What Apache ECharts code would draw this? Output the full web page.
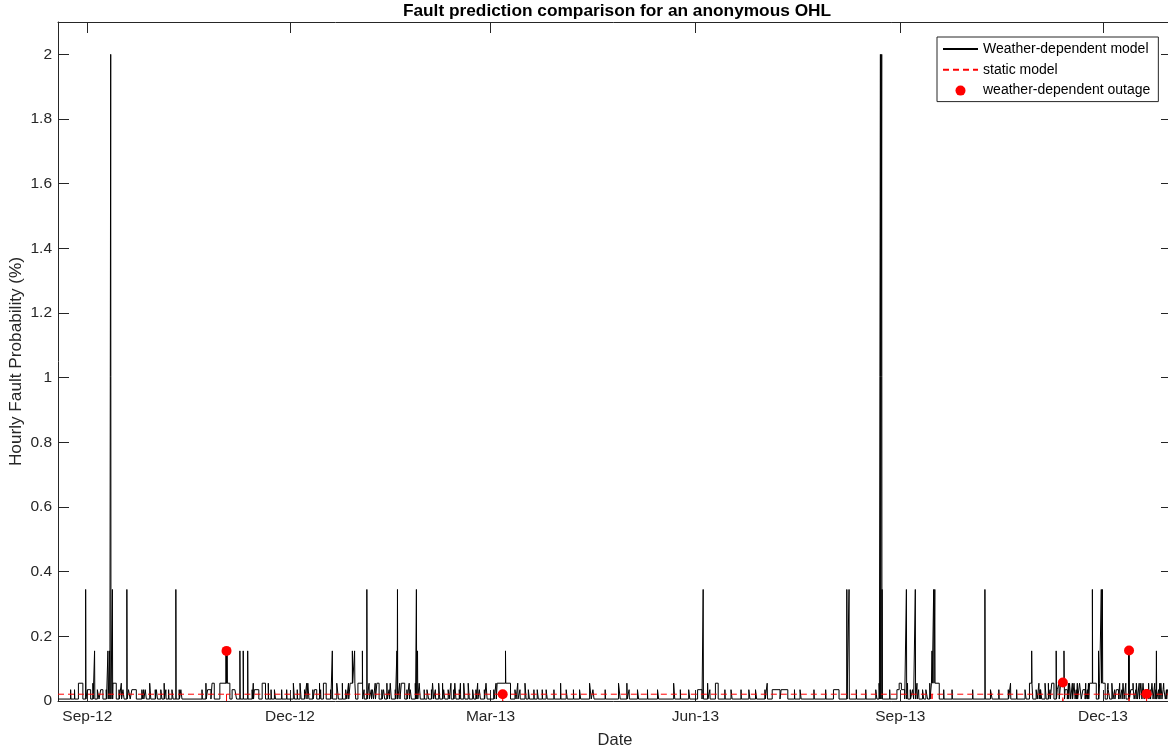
<!DOCTYPE html>
<html><head><meta charset="utf-8">
<script src="https://cdn.jsdelivr.net/npm/echarts@6/dist/echarts.min.js"></script>
<style>html,body{margin:0;padding:0;background:#fff}#c{width:1168px;height:751px}</style>
</head><body><div id="c"></div>
<script>
// ---------- DATA ----------
const xStart = '2012-08-18 20:00';
const xEnd = '2014-01-01 00:00';
const tickDates = ['2012-09-01', '2012-12-01', '2013-03-01', '2013-06-01', '2013-09-01', '2013-12-01'];
const tickLabels = ['Sep-12', 'Dec-12', 'Mar-13', 'Jun-13', 'Sep-13', 'Dec-13'];

const baseValue = 0.006;       // typical hourly probability (%) between events
const staticLevel = 0.021;     // static model (%)
const spikeHours = 3;          // duration of a short spike

const levelPeak = 2.0, levelTall = 0.345, levelMid = 0.155, levelHigh = 0.055, levelLow = 0.035;

const peakDates = ['2012-09-11 12:00', '2013-08-23 02:00', '2013-08-23 16:00'];
const tallDates = ['2012-08-31 06:00', '2012-09-12 06:00', '2012-09-18 18:00', '2012-10-10 18:00',
  '2013-01-04 12:00', '2013-01-18 06:00', '2013-01-26 18:00', '2013-06-04 12:00',
  '2013-08-08 00:00', '2013-08-09 00:00', '2013-08-23 20:00', '2013-09-03 18:00', '2013-09-07 18:00',
  '2013-09-16 00:00', '2013-09-16 12:00', '2013-10-09 00:00', '2013-11-26 06:00',
  '2013-11-30 06:00', '2013-11-30 18:00'];
const midDates = ['2012-09-04 06:00', '2012-09-10 06:00', '2012-09-11 00:00', '2012-11-02 06:00',
  '2012-11-02 12:00', '2012-11-02 18:00', '2012-11-08 12:00', '2012-11-10 00:00', '2012-11-12 00:00',
  '2012-12-20 00:00', '2012-12-29 00:00', '2012-12-30 00:00', '2013-01-02 12:00', '2013-01-18 00:00',
  '2013-01-27 06:00', '2013-03-07 18:00', '2013-09-15 06:00', '2013-10-30 00:00', '2013-11-10 00:00',
  '2013-11-13 12:00', '2013-11-29 00:00', '2013-12-12 12:00', '2013-12-12 18:00', '2013-12-25 00:00'];
const highSpikeDates = ['2012-09-03 12:00', '2012-09-16 06:00', '2012-10-05 12:00', '2012-10-24 06:00',
  '2012-11-14 12:00', '2012-11-21 06:00', '2012-12-08 12:00', '2012-12-14 06:00', '2012-12-24 12:00',
  '2012-12-27 06:00', '2013-01-05 12:00', '2013-01-08 06:00', '2013-01-13 12:00', '2013-01-19 06:00',
  '2013-01-23 12:00', '2013-01-26 06:00', '2013-02-07 12:00', '2013-02-11 06:00', '2013-02-15 12:00',
  '2013-02-23 06:00', '2013-03-03 12:00', '2013-03-13 06:00', '2013-04-01 12:00', '2013-05-01 06:00',
  '2013-06-06 12:00', '2013-07-03 06:00', '2013-08-22 12:00', '2013-09-04 06:00', '2013-09-08 12:00',
  '2013-09-14 06:00', '2013-10-20 12:00', '2013-11-02 06:00', '2013-11-06 12:00', '2013-11-11 06:00',
  '2013-11-15 12:00', '2013-11-17 06:00', '2013-11-19 12:00', '2013-11-23 06:00', '2013-11-24 12:00',
  '2013-12-03 06:00', '2013-12-08 12:00', '2013-12-11 06:00', '2013-12-14 12:00', '2013-12-17 06:00',
  '2013-12-21 12:00', '2013-12-24 06:00', '2013-12-26 12:00', '2013-12-28 06:00'];
const lowSpikeDates = ['2012-08-24 12:00', '2012-08-26 06:00', '2012-09-09 12:00', '2012-09-15 06:00',
  '2012-09-25 12:00', '2012-09-26 06:00', '2012-10-01 12:00', '2012-10-06 06:00', '2012-10-07 12:00',
  '2012-10-12 06:00', '2012-10-22 12:00', '2012-11-06 06:00', '2012-11-14 00:00', '2012-11-22 12:00',
  '2012-11-27 06:00', '2012-11-29 12:00', '2012-12-04 06:00', '2012-12-07 12:00', '2012-12-11 06:00',
  '2012-12-14 18:00', '2012-12-19 06:00', '2013-01-03 06:00', '2013-01-06 12:00', '2013-01-11 06:00',
  '2013-01-14 12:00', '2013-01-17 06:00', '2013-01-22 12:00', '2013-01-30 06:00', '2013-02-02 12:00',
  '2013-02-04 06:00', '2013-02-12 12:00', '2013-02-15 00:00', '2013-02-22 12:00', '2013-02-26 06:00',
  '2013-03-02 12:00', '2013-03-14 06:00', '2013-03-20 12:00', '2013-03-24 06:00', '2013-03-29 12:00',
  '2013-04-07 06:00', '2013-04-21 12:00', '2013-05-02 06:00', '2013-05-10 12:00', '2013-05-25 06:00',
  '2013-06-07 12:00', '2013-06-14 06:00', '2013-06-21 12:00', '2013-07-02 06:00', '2013-07-15 12:00',
  '2013-07-24 06:00', '2013-07-29 12:00', '2013-08-12 06:00', '2013-08-16 12:00', '2013-08-27 06:00',
  '2013-09-05 12:00', '2013-09-09 06:00', '2013-09-20 12:00', '2013-09-24 06:00', '2013-10-03 12:00',
  '2013-10-15 06:00', '2013-10-19 12:00', '2013-10-23 06:00', '2013-11-02 18:00', '2013-11-07 06:00',
  '2013-11-19 00:00', '2013-11-24 00:00', '2013-12-01 12:00', '2013-12-06 06:00', '2013-12-09 12:00',
  '2013-12-15 18:00', '2013-12-22 06:00', '2013-12-24 18:00', '2013-12-26 00:00', '2013-12-29 12:00'];
const highRanges = [
  ['2012-08-28 00:00', '2012-08-30 00:00'], ['2012-09-12 12:00', '2012-09-14 00:00'],
  ['2012-09-29 00:00', '2012-09-29 12:00'], ['2012-10-27 00:00', '2012-10-28 00:00'],
  ['2012-10-30 12:00', '2012-11-04 00:00'], ['2012-11-18 12:00', '2012-11-20 00:00'],
  ['2012-12-02 12:00', '2012-12-03 00:00'], ['2012-12-05 12:00', '2012-12-06 00:00'],
  ['2012-12-09 00:00', '2012-12-09 12:00'], ['2012-12-16 00:00', '2012-12-17 06:00'],
  ['2012-12-22 00:00', '2012-12-22 18:00'], ['2012-12-28 00:00', '2012-12-30 12:00'],
  ['2012-12-31 12:00', '2013-01-02 12:00'], ['2013-01-09 00:00', '2013-01-10 00:00'],
  ['2013-01-15 00:00', '2013-01-15 12:00'], ['2013-01-20 00:00', '2013-01-21 12:00'],
  ['2013-01-28 00:00', '2013-01-28 12:00'], ['2013-02-03 00:00', '2013-02-03 12:00'],
  ['2013-02-05 18:00', '2013-02-06 06:00'], ['2013-02-13 00:00', '2013-02-13 12:00'],
  ['2013-02-17 00:00', '2013-02-17 12:00'], ['2013-02-19 00:00', '2013-02-19 12:00'],
  ['2013-02-27 00:00', '2013-02-27 12:00'], ['2013-03-04 00:00', '2013-03-10 00:00'],
  ['2013-03-16 12:00', '2013-03-17 00:00'], ['2013-04-14 12:00', '2013-04-15 06:00'],
  ['2013-04-27 12:00', '2013-04-28 06:00'], ['2013-05-22 06:00', '2013-05-22 18:00'],
  ['2013-06-10 00:00', '2013-06-11 06:00'], ['2013-08-31 12:00', '2013-09-01 12:00'],
  ['2013-09-15 00:00', '2013-09-18 12:00'], ['2013-10-29 00:00', '2013-10-30 12:00'],
  ['2013-11-05 00:00', '2013-11-05 12:00'], ['2013-11-08 00:00', '2013-11-09 00:00'],
  ['2013-11-12 00:00', '2013-11-13 18:00'], ['2013-11-16 00:00', '2013-11-16 12:00'],
  ['2013-11-18 00:00', '2013-11-18 12:00'], ['2013-11-20 12:00', '2013-11-21 06:00'],
  ['2013-11-25 00:00', '2013-11-28 00:00'], ['2013-11-29 12:00', '2013-12-02 00:00'],
  ['2013-12-05 00:00', '2013-12-05 12:00'], ['2013-12-10 00:00', '2013-12-10 12:00'],
  ['2013-12-16 00:00', '2013-12-16 12:00'], ['2013-12-18 00:00', '2013-12-18 12:00'],
  ['2013-12-19 00:00', '2013-12-19 12:00'], ['2013-12-23 00:00', '2013-12-23 12:00'],
  ['2013-12-27 00:00', '2013-12-27 12:00']];
const lowRanges = [
  ['2012-09-01 00:00', '2012-09-02 12:00'], ['2012-09-05 12:00', '2012-09-06 06:00'],
  ['2012-09-07 00:00', '2012-09-08 00:00'], ['2012-09-17 00:00', '2012-09-17 12:00'],
  ['2012-09-19 12:00', '2012-09-20 06:00'], ['2012-09-21 00:00', '2012-09-23 00:00'],
  ['2012-09-27 00:00', '2012-09-27 12:00'], ['2012-10-02 00:00', '2012-10-02 12:00'],
  ['2012-10-04 00:00', '2012-10-04 12:00'], ['2012-10-09 00:00', '2012-10-09 12:00'],
  ['2012-10-13 00:00', '2012-10-13 12:00'], ['2012-10-25 00:00', '2012-10-26 12:00'],
  ['2012-11-05 00:00', '2012-11-07 00:00'], ['2012-11-15 00:00', '2012-11-17 00:00'],
  ['2012-11-24 00:00', '2012-11-24 12:00'], ['2012-12-12 00:00', '2012-12-13 00:00'],
  ['2012-12-26 00:00', '2012-12-26 12:00'], ['2013-01-07 00:00', '2013-01-07 12:00'],
  ['2013-01-12 00:00', '2013-01-12 12:00'], ['2013-01-24 00:00', '2013-01-24 12:00'],
  ['2013-01-31 12:00', '2013-02-01 06:00'], ['2013-02-08 00:00', '2013-02-08 12:00'],
  ['2013-02-10 00:00', '2013-02-10 12:00'], ['2013-02-21 00:00', '2013-02-21 12:00'],
  ['2013-02-24 00:00', '2013-02-24 12:00'], ['2013-03-12 00:00', '2013-03-12 12:00'],
  ['2013-03-18 00:00', '2013-03-18 12:00'], ['2013-03-22 00:00', '2013-03-22 12:00'],
  ['2013-03-26 00:00', '2013-03-26 12:00'], ['2013-04-04 00:00', '2013-04-04 12:00'],
  ['2013-04-10 00:00', '2013-04-10 12:00'], ['2013-04-16 00:00', '2013-04-16 12:00'],
  ['2013-05-06 00:00', '2013-05-06 12:00'], ['2013-05-15 00:00', '2013-05-15 12:00'],
  ['2013-05-29 00:00', '2013-05-29 12:00'], ['2013-06-02 00:00', '2013-06-04 00:00'],
  ['2013-06-17 00:00', '2013-06-17 12:00'], ['2013-06-25 00:00', '2013-06-25 12:00'],
  ['2013-06-28 00:00', '2013-06-28 12:00'], ['2013-07-05 12:00', '2013-07-09 00:00'],
  ['2013-07-09 12:00', '2013-07-12 12:00'], ['2013-07-18 00:00', '2013-07-18 12:00'],
  ['2013-08-02 00:00', '2013-08-04 12:00'], ['2013-08-21 00:00', '2013-08-21 12:00'],
  ['2013-08-30 12:00', '2013-09-03 00:00'], ['2013-09-06 12:00', '2013-09-07 00:00'],
  ['2013-09-11 00:00', '2013-09-11 12:00'], ['2013-09-12 12:00', '2013-09-13 06:00'],
  ['2013-10-11 12:00', '2013-10-12 06:00'], ['2013-10-27 00:00', '2013-10-27 12:00'],
  ['2013-11-01 00:00', '2013-11-01 12:00'], ['2013-11-03 00:00', '2013-11-03 12:00'],
  ['2013-11-10 12:00', '2013-11-11 06:00'], ['2013-11-14 00:00', '2013-11-15 00:00'],
  ['2013-11-22 00:00', '2013-11-23 00:00'], ['2013-12-03 00:00', '2013-12-04 00:00'],
  ['2013-12-07 00:00', '2013-12-08 00:00'], ['2013-12-13 12:00', '2013-12-15 00:00'],
  ['2013-12-20 00:00', '2013-12-21 12:00'], ['2013-12-28 00:00', '2013-12-29 00:00'],
  ['2013-12-30 00:00', '2013-12-31 12:00']];

const outageDates = ['2012-11-02 12:00', '2013-03-06 12:00', '2013-11-13 00:00', '2013-12-12 17:00', '2013-12-20 14:00'];
const outageValues = [0.155, 0.021, 0.057, 0.156, 0.022];
const staticDipDates = ['2012-11-02 12:00', '2013-03-06 12:00', '2013-09-15 06:00', '2013-11-13 00:00', '2013-12-12 17:00', '2013-12-20 14:00'];

// ---------- BUILD ----------
const H = 3600e3;
function t(s) {
  const [d, h = '00:00'] = s.split(' ');
  const [Y, M, D] = d.split('-').map(Number);
  const [hh, mm] = h.split(':').map(Number);
  return Date.UTC(Y, M - 1, D, hh, mm);
}
const events = [];
const addSpikes = (list, v) => list.forEach(s => events.push([t(s), t(s) + spikeHours * H, v]));
const addRanges = (list, v) => list.forEach(r => events.push([t(r[0]), t(r[1]), v]));
addSpikes(peakDates, levelPeak);
addSpikes(tallDates, levelTall);
addSpikes(midDates, levelMid);
addSpikes(highSpikeDates, levelHigh);
addSpikes(lowSpikeDates, levelLow);
addRanges(highRanges, levelHigh);
addRanges(lowRanges, levelLow);

const x0 = t(xStart), x1 = t(xEnd);
const bset = new Set([x0, x1]);
events.forEach(e => { bset.add(e[0]); bset.add(e[1]); });
const bounds = [...bset].sort((a, b) => a - b);
const weatherData = [];
let prev = null;
bounds.forEach(b => {
  let v = baseValue;
  events.forEach(e => { if (e[0] <= b && b < e[1] && e[2] > v) v = e[2]; });
  if (prev !== null && v !== prev) weatherData.push([b, prev]);
  weatherData.push([b, v]);
  prev = v;
});

const staticData = [[x0, staticLevel]];
staticDipDates.map(t).sort((a, b) => a - b).forEach(a => {
  staticData.push([a, staticLevel], [a, 0], [a, staticLevel]);
});
staticData.push([x1, staticLevel]);

const outageData = outageDates.map((s, i) => [t(s), outageValues[i]]);
const tickTs = tickDates.map(t);

// ---------- CHART ----------
const AX = '#262626';
const FONT = 'Liberation Sans';
function xLabel(v) {
  let best = -1, bd = Infinity;
  tickTs.forEach((tt, i) => { const d = Math.abs(tt - v); if (d < bd) { bd = d; best = i; } });
  return bd < 12 * H ? tickLabels[best] : '';
}
const chart = echarts.init(document.getElementById('c'), null, { renderer: 'canvas' });
chart.setOption({
  animation: false,
  backgroundColor: '#fff',
  title: {
    text: 'Fault prediction comparison for an anonymous OHL',
    left: 617, top: 3, textAlign: 'center', padding: 0,
    textStyle: { fontFamily: FONT, fontSize: 17.3, fontWeight: 'bold', color: '#000' }
  },
  grid: { left: 58, right: -4, top: 22, bottom: 50, outerBoundsMode: 'none', containLabel: false },
  legend: {
    orient: 'vertical', left: 937, top: 37,
    padding: [5, 8, 4, 5], itemWidth: 35, itemHeight: 10, itemGap: 6.8,
    borderColor: AX, borderWidth: 1, backgroundColor: '#fff',
    textStyle: { fontFamily: FONT, fontSize: 14, color: '#000' },
    data: [
      { name: 'Weather-dependent model', itemStyle: { opacity: 0 } },
      { name: 'static model', itemStyle: { opacity: 0 } },
      { name: 'weather-dependent outage' }
    ]
  },
  xAxis: [{
    type: 'value', min: x0, max: x1, position: 'bottom', scale: true,
    name: 'Date', nameLocation: 'middle', nameGap: 31, nameMoveOverlap: false,
    nameTextStyle: { fontFamily: FONT, fontSize: 16.5, color: AX },
    axisLine: { onZero: false, lineStyle: { color: AX, width: 1 } },
    axisTick: { inside: true, length: 11, customValues: tickTs, lineStyle: { color: AX } },
    axisLabel: {
      customValues: tickTs, margin: 8, fontFamily: FONT, fontSize: 15.5, color: AX,
      formatter: xLabel
    },
    splitLine: { show: false }
  }, {
    type: 'value', min: x0, max: x1, position: 'top', scale: true,
    axisLine: { onZero: false, lineStyle: { color: AX, width: 1 } },
    axisTick: { inside: true, length: 11, customValues: tickTs, lineStyle: { color: AX } },
    axisLabel: { show: false },
    splitLine: { show: false }
  }],
  yAxis: [{
    type: 'value', min: 0, max: 2.1, interval: 0.2, position: 'left',
    name: 'Hourly Fault Probability (%)', nameLocation: 'middle', nameGap: 33, nameMoveOverlap: false,
    nameTextStyle: { fontFamily: FONT, fontSize: 17.2, color: AX },
    axisLine: { show: true, onZero: false, lineStyle: { color: AX, width: 1 } },
    axisTick: { show: true, inside: true, length: 11, lineStyle: { color: AX } },
    axisLabel: { margin: 6, fontFamily: FONT, fontSize: 15.5, color: AX, showMaxLabel: false },
    splitLine: { show: false }
  }, {
    type: 'value', min: 0, max: 2.1, interval: 0.2, position: 'right',
    axisLine: { show: true, onZero: false, lineStyle: { color: AX, width: 1 } },
    axisTick: { show: true, inside: true, length: 11, lineStyle: { color: AX } },
    axisLabel: { show: false },
    splitLine: { show: false }
  }],
  series: [{
    name: 'Weather-dependent model', type: 'line', data: weatherData,
    symbol: 'none', showSymbol: false, clip: true,
    lineStyle: { color: '#000', width: 1 }, itemStyle: { color: '#000' }, z: 2
  }, {
    name: 'static model', type: 'line', data: staticData,
    symbol: 'none', showSymbol: false, clip: true,
    lineStyle: { color: '#ff0000', width: 1, type: [6, 4] }, itemStyle: { color: '#ff0000' }, z: 3
  }, {
    name: 'weather-dependent outage', type: 'scatter', data: outageData,
    symbol: 'circle', symbolSize: 10, itemStyle: { color: '#ff0000', opacity: 1 }, z: 4
  }]
});
</script>
</body></html>
